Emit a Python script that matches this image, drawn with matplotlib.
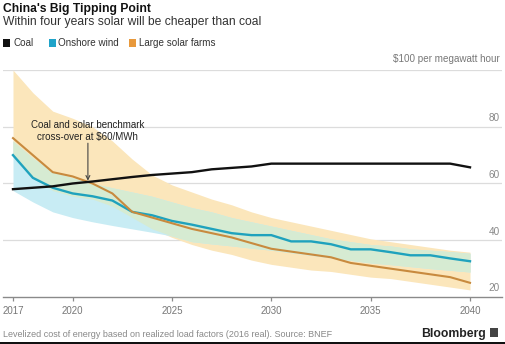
import matplotlib
matplotlib.use("Agg")
import matplotlib.pyplot as plt
import matplotlib.transforms as mtransforms
from matplotlib.patches import Rectangle
import numpy as np

plt.rcParams['font.family'] = ['Liberation Sans', 'DejaVu Sans']

years = list(range(2017, 2041))
coal = [58, 58.5, 59, 60, 60.7, 61.5, 62.3, 63, 63.5, 64, 65, 65.5, 66, 67,
        67, 67, 67, 67, 67, 67, 67, 67, 67, 65.7]
wind = [70, 62, 58.5, 56.5, 55.5, 54, 50, 48.8, 46.8, 45.5, 44, 42.5, 41.8, 41.8,
        39.6, 39.6, 38.6, 36.8, 36.8, 35.8, 34.7, 34.7, 33.6, 32.6]
solar = [76, 70, 64, 62.5, 60, 56.5, 50, 48, 46, 44, 42.5, 41, 39, 37,
         36, 35, 34, 32, 31, 30, 29, 28, 27, 25]
wind_high = [75, 69, 64, 62, 60, 58.5, 57, 55.5, 53.5, 51.5, 50, 48, 46.5, 45,
             43.5, 42, 40.5, 39.5, 38.5, 38, 37, 36.5, 36, 35.4]
wind_low = [57.5, 53.5, 50, 48, 46.5, 45.2, 44, 42.8, 41.5, 39.5, 38.7, 38, 37.2, 36.5,
            35.6, 34.7, 33.8, 32.9, 32, 31.4, 30.7, 30, 29.4, 28.8]
solar_high = [100, 92, 85.5, 83, 80, 75, 68.6, 63, 59.5, 57, 54.5, 52.5, 50, 48,
              46.5, 45, 43.5, 42, 40.5, 39.5, 38.5, 37.5, 36.5, 35.8]
solar_low = [70, 62, 57.5, 55.5, 54.5, 52, 48, 44, 41, 38.5, 36.5, 35, 33, 31.5,
             30.5, 29.5, 29, 28, 27, 26.5, 25.5, 24.5, 23.5, 22.5]
x_ticks = [2017, 2020, 2025, 2030, 2035, 2040]
y_grid = [40, 60, 80, 100]
y_labels = [20, 40, 60, 80]

W, H = 505, 344
fig = plt.figure(figsize=(W / 100, H / 100), dpi=100)

def fx(px):
    return px / W

def fy(py):
    return 1 - py / H

ax = fig.add_axes([fx(3), fy(297), fx(499), (297 - 70) / H])

yrs = np.array(years)
c_yellow = '#fbe6bb'
c_blue = '#c8ecf4'
c_green = '#d6ebd2'
ax.fill_between(yrs, solar_low, solar_high, color=c_yellow, lw=0, zorder=1)
ax.fill_between(yrs, wind_low, wind_high, color=c_blue, lw=0, zorder=1.1)
lo = np.maximum(wind_low, solar_low)
hi = np.minimum(wind_high, solar_high)
ax.fill_between(yrs, lo, hi, where=hi > lo, interpolate=True, color=c_green, lw=0, zorder=1.2)

for g in y_grid:
    ax.axhline(g, color='#dcdcdc', lw=0.9, zorder=0.5)

ax.plot(yrs, wind, color='#1fa2bd', lw=1.7, zorder=3)
ax.plot(yrs, solar, color='#c88a3e', lw=1.5, zorder=3)
ax.plot(yrs, coal, color='#111111', lw=1.7, zorder=4)

ax.set_xlim(2016.497, 2041.61)
ax.set_ylim(20, 100)
for s in ['top', 'right', 'left']:
    ax.spines[s].set_visible(False)
ax.spines['bottom'].set_color('#8a8a8a')
ax.spines['bottom'].set_linewidth(1.0)
ax.set_yticks([])
ax.set_xticks(x_ticks)
ax.set_xticklabels([str(t) for t in x_ticks])
ax.tick_params(axis='x', direction='out', length=3.2, width=0.9, color='#8a8a8a',
               pad=3.5, labelsize=7, labelcolor='#777777')

blend = mtransforms.blended_transform_factory(ax.transAxes, ax.transData)
for v in y_labels:
    ax.text(0.996, v + 1.3, str(v), transform=blend, ha='right', va='bottom',
            fontsize=7.2, color='#888888')
ax.text(0.996, 100 + 2.0, '$100 per megawatt hour', transform=blend, ha='right',
        va='bottom', fontsize=7.1, color='#777777', clip_on=False)

ax.text(2020.77, 78.5, 'Coal and solar benchmark\ncross-over at $60/MWh',
        ha='center', va='center', fontsize=7, color='#222222', linespacing=1.25, zorder=5)
ax.annotate('', xy=(2020.77, 61.0), xytext=(2020.77, 74.2),
            arrowprops=dict(arrowstyle='->', color='#444444', lw=0.8, mutation_scale=7,
                            shrinkA=0, shrinkB=0), zorder=5)

fig.text(fx(3), fy(11.7), "China's Big Tipping Point", fontsize=8.7, fontweight='bold',
         color='#111111', ha='left', va='baseline')
fig.text(fx(3), fy(24.5), 'Within four years solar will be cheaper than coal', fontsize=8.7,
         color='#333333', ha='left', va='baseline')

legend_items = [('Coal', '#111111', 3, 13), ('Onshore wind', '#1fa3c9', 49, 58),
                ('Large solar farms', '#e8993c', 129, 139)]
for label, col, sx, tx in legend_items:
    fig.patches.append(Rectangle((fx(sx), fy(46.5)), fx(7), 7 / H, transform=fig.transFigure,
                                 color=col, lw=0))
    fig.text(fx(tx), fy(46.5), label, fontsize=7.1, color='#333333', ha='left', va='baseline')

fig.text(fx(3), fy(337), 'Levelized cost of energy based on realized load factors (2016 real). Source: BNEF',
         fontsize=6.5, color='#888888', ha='left', va='baseline')
fig.text(fx(486), fy(336.7), 'Bloomberg', fontsize=8.8, fontweight='bold', color='#222222',
         ha='right', va='baseline')
fig.patches.append(Rectangle((fx(490), fy(336.5)), fx(8), 8.5 / H, transform=fig.transFigure,
                             color='#444444', lw=0))
fig.patches.append(Rectangle((0, 0), 1, 2.5 / H, transform=fig.transFigure, color='#111111', lw=0))

fig.savefig('out.png', dpi=100)
